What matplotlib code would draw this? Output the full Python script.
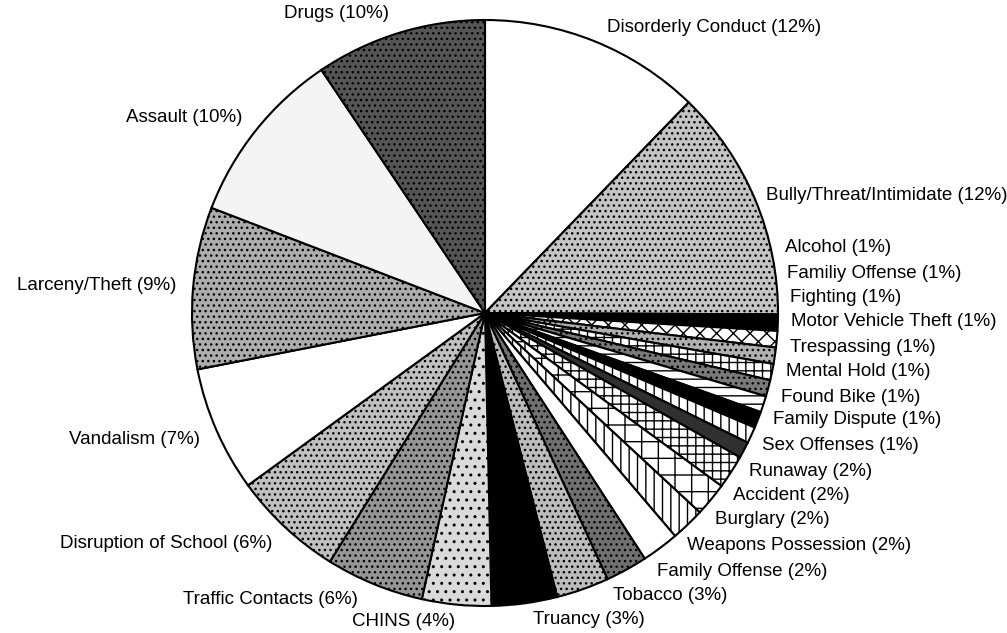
import matplotlib

matplotlib.use("Agg")
import matplotlib.pyplot as plt

# ---- data (clockwise from 12 o'clock) --------------------------------------
categories = [
    "Disorderly Conduct", "Bully/Threat/Intimidate", "Alcohol", "Familiy Offense",
    "Fighting", "Motor Vehicle Theft", "Trespassing", "Mental Hold", "Found Bike",
    "Family Dispute", "Sex Offenses", "Runaway", "Accident", "Burglary",
    "Weapons Possession", "Family Offense", "Tobacco", "Truancy", "CHINS",
    "Traffic Contacts", "Disruption of School", "Vandalism", "Larceny/Theft",
    "Assault", "Drugs",
]
# share of incidents
shares = [12.2, 12.8, 0.9, 0.9, 0.9, 0.9, 0.9, 0.9, 0.9, 0.9, 0.9,
          1.85, 1.85, 1.85, 2.05, 2.3, 2.9, 3.6, 3.8, 5.4, 6.1, 6.9, 8.9, 9.7, 9.4]
# percentages as printed on the labels
label_pct = [12, 12, 1, 1, 1, 1, 1, 1, 1, 1, 1, 2, 2, 2, 2, 2, 3, 3, 4, 6, 6, 7, 9, 10, 10]

# ---- styling per slice (face colour, hatch) ---------------------------------
styles = [
    ("white", ""), ("#c4c4c4", "..."), ("black", ""), ("white", "xx"),
    ("#b0b0b0", "..."), ("white", "++"), ("#7a7a7a", "..."), ("white", "--"),
    ("black", ""), ("white", "||"), ("#303030", ""), ("white", "++"),
    ("white", "+"), ("white", "||"), ("white", ""), ("#707070", "..."),
    ("#bcbcbc", "..."), ("black", ""), ("#dadada", ".."), ("#959595", "..."),
    ("#c0c0c0", "..."), ("white", ""), ("#adadad", "..."), ("#f4f4f4", ""),
    ("#555555", "..."),
]

# label anchor (pixel x, pixel y from top, horizontal alignment)
label_layout = [
    (607, 27, "left"), (766, 195, "left"), (785, 248, "left"), (787, 273, "left"),
    (790, 297, "left"), (791, 322, "left"), (790, 347, "left"), (786, 372, "left"),
    (781, 397, "left"), (773, 420, "left"), (762, 446, "left"), (749, 471, "left"),
    (733, 496, "left"), (715, 520, "left"), (687, 546, "left"), (657, 571, "left"),
    (613, 596, "left"), (533, 620, "left"), (455, 622, "right"), (358, 600, "right"),
    (272, 543, "right"), (200, 440, "right"), (176, 285, "right"), (242, 118, "right"),
    (336, 14, "center"),
]

W, H = 1007, 633
CX, CY, R = 485, 313, 293

plt.rcParams["hatch.linewidth"] = 1.0
fig = plt.figure(figsize=(W / 100, H / 100), dpi=100)
ax = fig.add_axes([0, 0, 1, 1])

wedges, _ = ax.pie(
    shares,
    startangle=90,
    counterclock=False,
    center=(CX, H - CY),
    radius=R,
    colors=[s[0] for s in styles],
    wedgeprops=dict(edgecolor="black", linewidth=1.5),
)
for w, (_, hatch) in zip(wedges, styles):
    if hatch:
        w.set_hatch(hatch)

for name, pct, (x, y, ha) in zip(categories, label_pct, label_layout):
    ax.text(x, H - y, f"{name} ({pct}%)", ha=ha, va="center",
            fontsize=13.5, family="Liberation Sans", color="black")

ax.set_xlim(0, W)
ax.set_ylim(0, H)
ax.set_aspect("equal")
ax.axis("off")

fig.savefig("out.png", dpi=100, facecolor="white")
